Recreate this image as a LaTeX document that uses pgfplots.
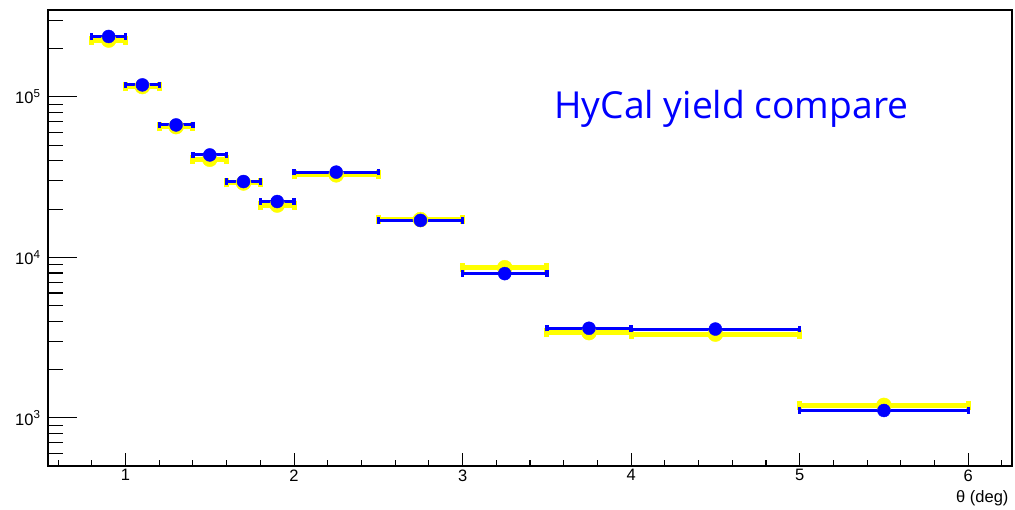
\documentclass[border=0pt]{standalone}
\usepackage{fontspec}
\setmainfont{Liberation Sans}
\newfontfamily\titlefont{Open Sans}
\usepackage{pgfplots}
\pgfplotsset{compat=1.18}

\definecolor{rootblue}{RGB}{0,0,255}
\definecolor{rootyellow}{RGB}{255,255,0}

\begin{document}
\begin{tikzpicture}
% data and x axis
\begin{axis}[
  scale only axis,
  width=964pt, height=456pt,
  xmin=0.54, xmax=6.26,
  ymode=log, ymin=502, ymax=348000,
  tick align=inside,
  tick pos=left,
  /pgf/number format/assume math mode=true,
  tick label style={font=\fontsize{16.5}{18}\selectfont},
  xtick={1,2,3,4,5,6},
  minor xtick={0.6,0.8,1.2,1.4,1.6,1.8,2.2,2.4,2.6,2.8,3.2,3.4,3.6,3.8,4.2,4.4,4.6,4.8,5.2,5.4,5.6,5.8,6.2},
  ytick=\empty,
  major tick length=13pt,
  minor tick length=6.5pt,
  xlabel={θ (deg)},
  x label style={at={(axis description cs:1,0)}, anchor=base east, yshift=-37pt,
    font=\fontsize{16.5}{18}\selectfont},
  axis line style={line width=1.2pt},
  tick style={black, line width=1.1pt},
]
%% yellow series
\addplot[only marks, mark=*, mark size=7.5pt, color=rootyellow,
  error bars/.cd, x dir=both, x explicit,
  error bar style={line width=5pt, rootyellow},
  error mark options={rotate=90, mark size=4.5pt, line width=5pt, rootyellow}]
coordinates{
  (0.90,226000) +- (0.10,0)
  (1.10,116000) +- (0.10,0)
  (1.30,65300) +- (0.10,0)
  (1.50,40900) +- (0.10,0)
  (1.70,29100) +- (0.10,0)
  (1.90,21200) +- (0.10,0)
  (2.25,32700) +- (0.25,0)
  (2.75,17200) +- (0.25,0)
  (3.25,8630) +- (0.25,0)
  (3.75,3400) +- (0.25,0)
  (4.50,3330) +- (0.50,0)
  (5.50,1197) +- (0.50,0)
};
%% blue series
\addplot[only marks, mark=*, mark size=6.5pt, color=rootblue,
  error bars/.cd, x dir=both, x explicit,
  error bar style={line width=3pt, rootblue},
  error mark options={rotate=90, mark size=3.2pt, line width=3.3pt, rootblue}]
coordinates{
  (0.90,238000) +- (0.10,0)
  (1.10,118800) +- (0.10,0)
  (1.30,66900) +- (0.10,0)
  (1.50,43500) +- (0.10,0)
  (1.70,29700) +- (0.10,0)
  (1.90,22300) +- (0.10,0)
  (2.25,34000) +- (0.25,0)
  (2.75,17000) +- (0.25,0)
  (3.25,7930) +- (0.25,0)
  (3.75,3620) +- (0.25,0)
  (4.50,3580) +- (0.50,0)
  (5.50,1113) +- (0.50,0)
};
\node[anchor=base, text=rootblue, font=\titlefont\fontsize{37.2}{40}\selectfont, inner sep=0pt]
  at (axis cs:4.595,72900) {HyCal yield compare};
\end{axis}
% y axis: decade ticks and labels
\begin{axis}[
  scale only axis,
  width=964pt, height=456pt,
  xmin=0.54, xmax=6.26,
  ymode=log, ymin=502, ymax=348000,
  tick align=inside,
  tick pos=left,
  tick label style={font=\fontsize{16.5}{18}\selectfont},
  hide x axis,
  axis line style={draw=none},
  ytick={1000,10000,100000},
  yticklabels={10\textsuperscript{3},10\textsuperscript{4},10\textsuperscript{5}},
  minor ytick={},
  major tick length=29pt,
  tick style={black, line width=1.1pt},
  yticklabel style={anchor=east, xshift=-4pt},
]
\end{axis}
% y axis: in-between ticks
\begin{axis}[
  scale only axis,
  width=964pt, height=456pt,
  xmin=0.54, xmax=6.26,
  ymode=log, ymin=502, ymax=348000,
  tick align=inside,
  tick pos=left,
  hide x axis,
  axis line style={draw=none},
  ytick={600,700,800,900,2000,3000,4000,5000,6000,7000,8000,9000,20000,30000,40000,50000,60000,70000,80000,90000,200000,300000},
  yticklabels={},
  major tick length=14.5pt,
  tick style={black, line width=1.1pt},
]
\end{axis}
\pgfresetboundingbox
\path[use as bounding box] (-48pt,-44pt) rectangle (967pt,466pt);
\end{tikzpicture}
\end{document}
